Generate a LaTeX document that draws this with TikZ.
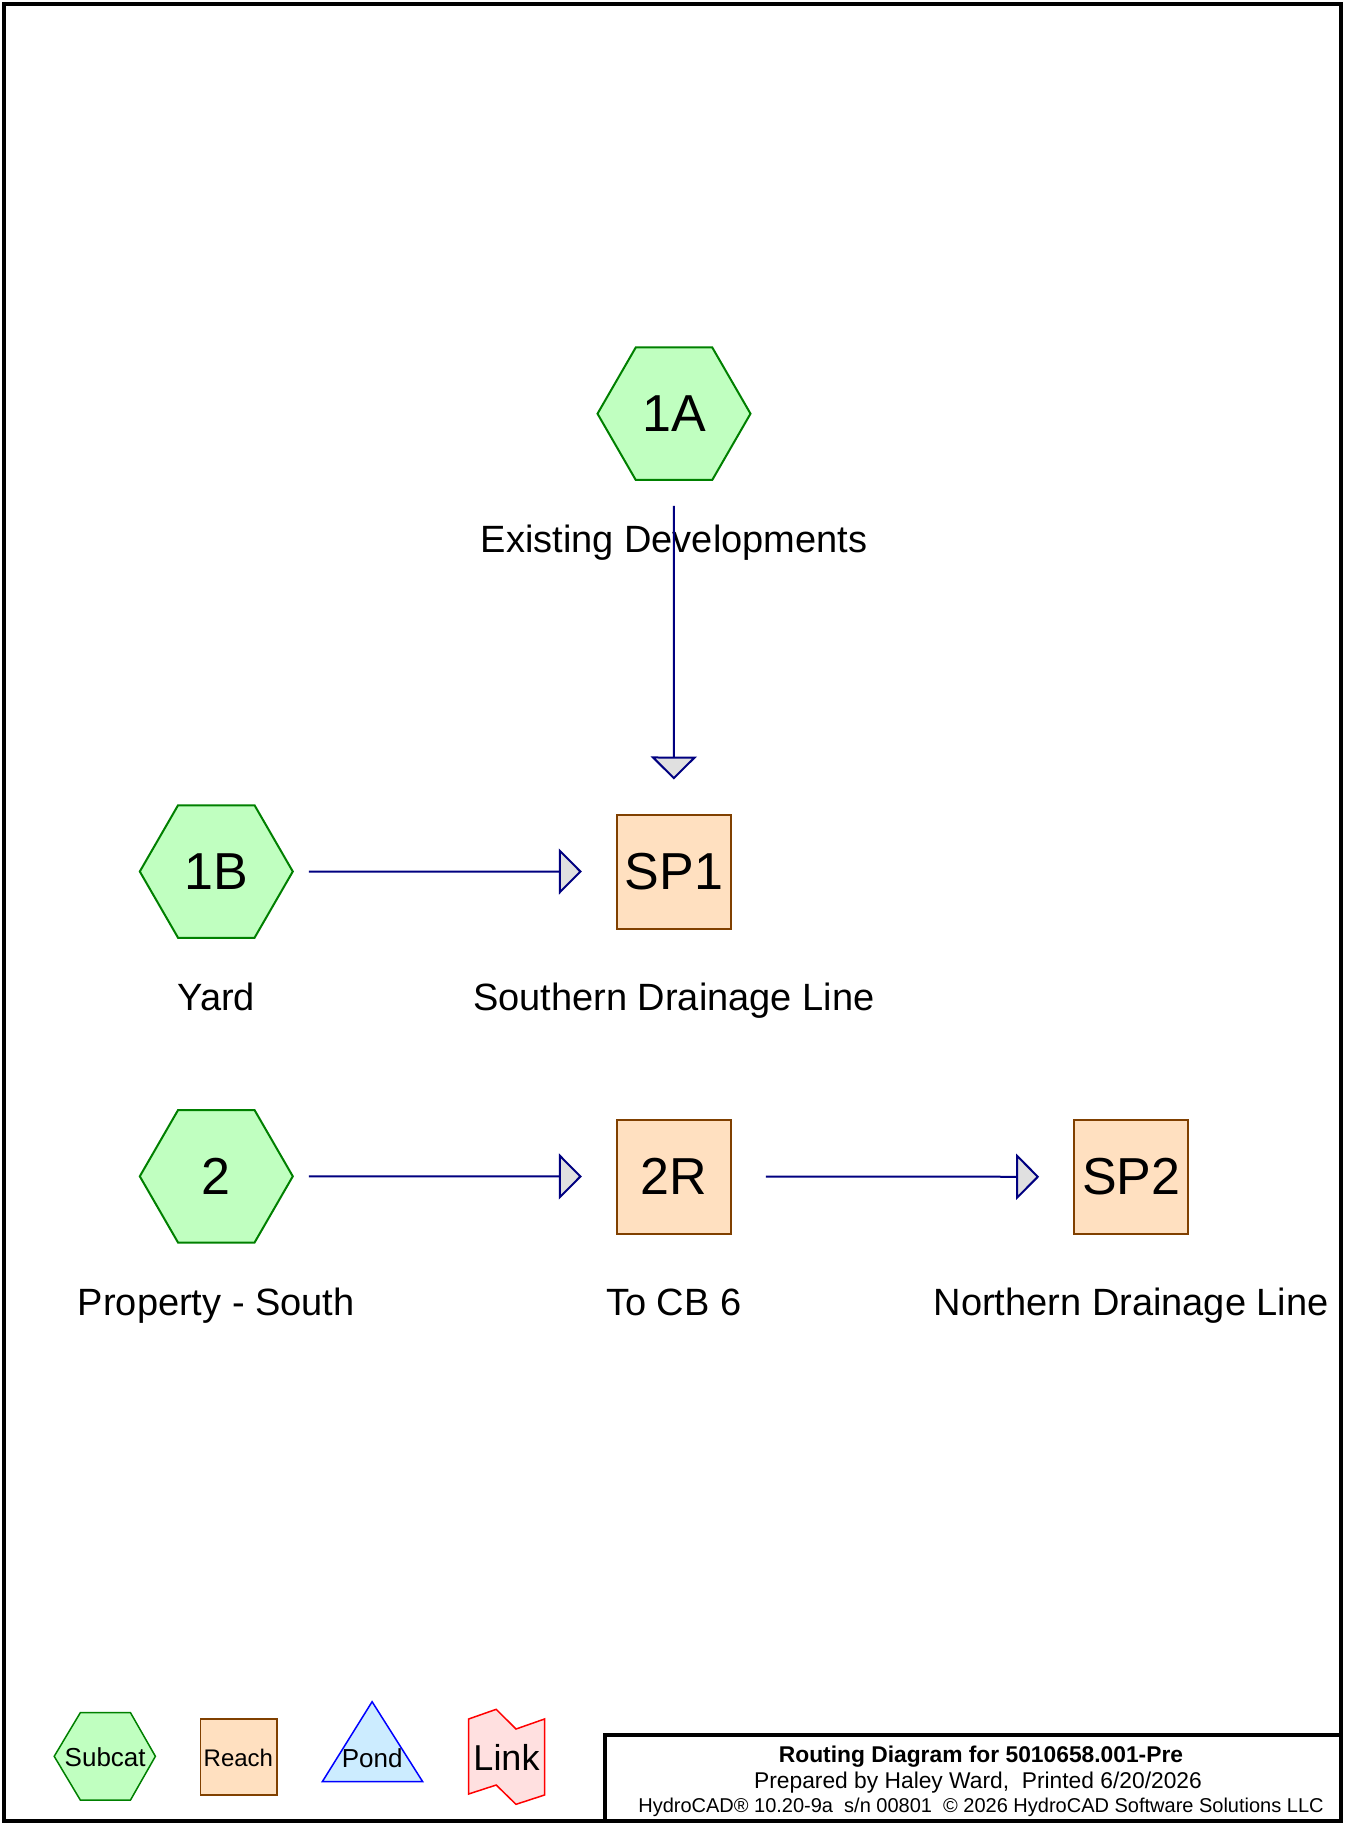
\documentclass[tikz,border=0pt]{standalone}
\usepackage{fontspec}
\setmainfont{Liberation Sans}
\usetikzlibrary{shapes.geometric,arrows.meta,positioning}
\definecolor{subfill}{RGB}{192,255,192}
\definecolor{subline}{RGB}{0,128,0}
\definecolor{reachfill}{RGB}{255,224,192}
\definecolor{reachline}{RGB}{128,64,0}
\definecolor{pondfill}{RGB}{204,236,255}
\definecolor{pondline}{RGB}{0,0,255}
\definecolor{linkfill}{RGB}{255,224,224}
\definecolor{linkline}{RGB}{255,0,0}
\definecolor{flowline}{RGB}{0,0,128}
\definecolor{tipfill}{gray}{0.88}

\begin{document}
\begin{tikzpicture}[x=1pt,y=-1pt,
  subcat/.style={regular polygon,regular polygon sides=6,minimum size=153pt,
    inner sep=0pt,draw=subline,fill=subfill,line width=2pt,
    font=\fontsize{52}{56}\selectfont},
  reach/.style={rectangle,minimum size=114pt,inner sep=0pt,draw=reachline,
    fill=reachfill,line width=2pt,font=\fontsize{52}{56}\selectfont},
  caption/.style={anchor=base,font=\fontsize{38}{42}\selectfont},
  flow/.style={flowline,line width=2pt,
    -{Triangle[length=23pt,width=46pt,fill=tipfill]}},
  legendtext/.style={anchor=base,font=\fontsize{26}{28}\selectfont},
  titleline/.style={anchor=base,font=\fontsize{22.8}{24}\selectfont}]
  \useasboundingbox (0,0) rectangle (1345,1825);
  \fill[white] (0,0) rectangle (1345,1825);

  % subcatchments and reaches
  \node[subcat] (n1A) at (674,413.7) {1A};
  \node[subcat] (n1B) at (216.3,871.5) {1B};
  \node[subcat] (n2) at (216.3,1176.3) {2};
  \node[reach] (nSP1) at (673.8,871.5) {SP1};
  \node[reach] (n2R) at (673.8,1176.5) {2R};
  \node[reach] (nSP2) at (1131.2,1176.8) {SP2};

  \node[caption] (c1A) at ([yshift=-139pt]n1A.center) {Existing Developments};
  \node[caption] (c1B) at ([yshift=-139pt]n1B.center) {Yard};
  \node[caption] (c2) at ([yshift=-139pt]n2.center) {Property - South};
  \node[caption] (cSP1) at ([yshift=-139pt]nSP1.center) {Southern Drainage Line};
  \node[caption] (c2R) at ([yshift=-139pt]n2R.center) {To CB 6};
  \node[caption] (cSP2) at ([yshift=-139pt]nSP2.center) {Northern Drainage Line};

  % routing
  \draw[flow,shorten <=25pt,shorten >=34pt] (n1A.south) -- (nSP1.north);
  \draw[flow,shorten <=15pt,shorten >=34pt] (n1B.east) -- (nSP1.west);
  \draw[flow,shorten <=15pt,shorten >=34pt] (n2.east) -- (n2R.west);
  \draw[flow,shorten <=34pt,shorten >=34pt] (n2R.east) -- (nSP2.west);

  % legend
  \draw[subline,fill=subfill,line width=1.5pt] (54.2,1756.3) -- (80.3,1712.7)
    -- (130.5,1712.7) -- (155.4,1756.3) -- (130.5,1800) -- (80.3,1800) -- cycle;
  \draw[reachline,fill=reachfill,line width=1.5pt] (200.5,1719) rectangle (276.8,1795);
  \draw[pondline,fill=pondfill,line width=1.5pt] (372.1,1701.7) -- (422.7,1781.7)
    -- (322.3,1781.7) -- cycle;
  \draw[linkline,fill=linkfill,line width=1.5pt] (468.6,1719) -- (496.2,1709.3)
    -- (516,1729) -- (544.5,1719) -- (544.5,1795) -- (516,1804.3) -- (496.2,1785)
    -- (468.6,1794) -- cycle;
  \node[legendtext] (lSub) at (105.2,1766.7) {Subcat};
  \node[legendtext,font=\fontsize{24}{26}\selectfont] (lReach) at (238.4,1766) {Reach};
  \node[legendtext] (lPond) at (372.2,1767) {Pond};
  \node[legendtext,font=\fontsize{36}{40}\selectfont] (lLink) at (506.5,1770) {Link};

  % title block
  \draw[line width=4pt] (605,1822) -- (605,1735) -- (1341,1735);
  \node[titleline,font=\bfseries\fontsize{22.8}{24}\selectfont] (t1) at (981,1762)
    {Routing Diagram for 5010658.001-Pre};
  \node[titleline] (t2) at (978,1788) {Prepared by Haley Ward,\ \ Printed 6/20/2026};
  \node[titleline,font=\fontsize{20}{22}\selectfont] (t3) at (981,1812)
    {HydroCAD® 10.20-9a\ \ s/n 00801\ \ © 2026 HydroCAD Software Solutions LLC};

  \draw[line width=4.5pt] (4,4) rectangle (1341,1821);
\end{tikzpicture}
\end{document}
